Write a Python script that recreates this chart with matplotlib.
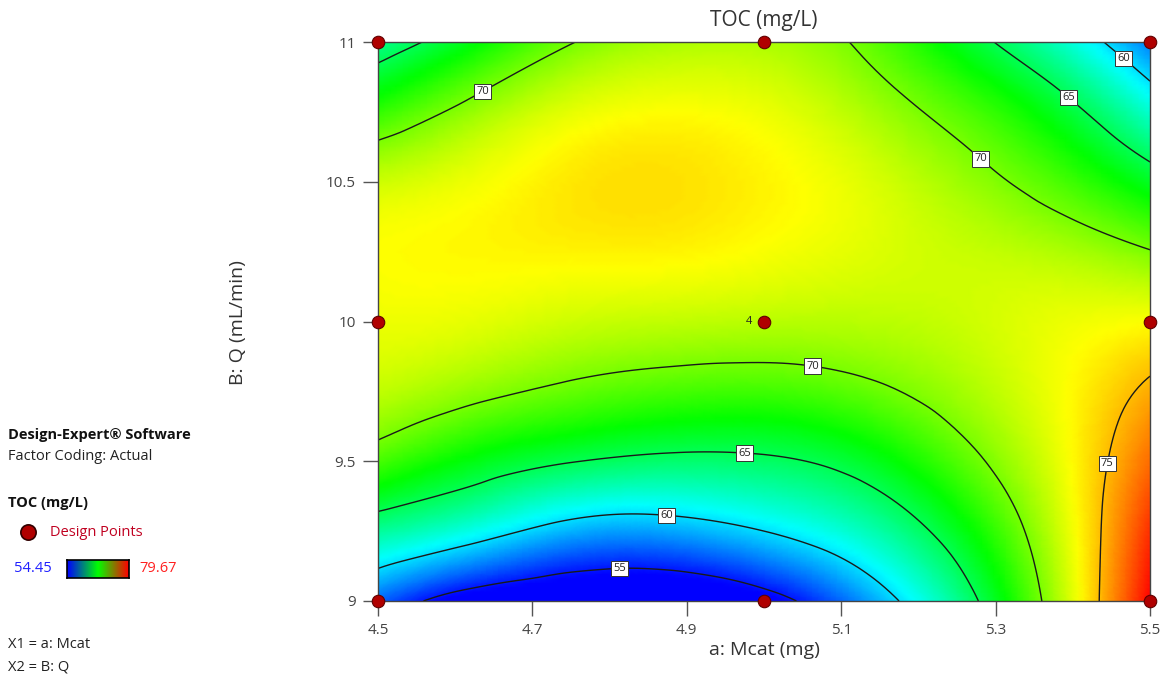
import numpy as np
import matplotlib
matplotlib.use("Agg")
import matplotlib.pyplot as plt
import matplotlib.tri as mtri
from matplotlib.colors import LinearSegmentedColormap, Normalize

plt.rcParams['font.family'] = ['Open Sans', 'DejaVu Sans']

# factor grid (a: Mcat, B: Q) and TOC values
mcat = [4.5, 4.625, 4.75, 4.875, 5.0, 5.125, 5.25, 5.375, 5.5]
flow = [9.0, 9.25, 9.5, 9.75, 10.0, 10.25, 10.5, 10.75, 11.0]
toc = [
    [57.0, 53.3, 52.3, 52.0, 53.8, 58.0, 63.5, 71.0, 79.6],   # Q = 9
    [63.3, 61.2, 58.9, 58.6, 60.0, 62.3, 66.3, 71.8, 78.5],   # 9.25
    [68.8, 66.6, 65.1, 64.4, 64.6, 66.0, 69.0, 72.6, 77.0],   # 9.5
    [71.8, 70.6, 69.5, 68.8, 68.6, 69.4, 71.0, 73.0, 75.4],   # 9.75
    [72.9, 72.7, 72.1, 71.8, 71.6, 71.6, 72.0, 72.8, 73.3],   # 10
    [73.3, 73.5, 73.6, 73.6, 73.2, 72.6, 72.0, 71.4, 70.1],   # 10.25
    [72.1, 73.0, 73.9, 74.1, 73.6, 72.6, 71.0, 69.0, 66.2],   # 10.5
    [68.2, 70.8, 72.7, 73.3, 72.9, 71.4, 69.2, 66.3, 61.9],   # 10.75
    [63.6, 66.8, 69.9, 71.2, 71.3, 69.7, 66.4, 62.5, 57.5],   # 11
]
levels = [55, 60, 65, 70, 75]
toc_min, toc_max = 54.45, 79.67

# design points (center point replicated 4 times)
pts_x = [4.5, 5.0, 5.5, 4.5, 5.0, 5.5, 4.5, 5.0, 5.5]
pts_y = [9, 9, 9, 10, 10, 10, 11, 11, 11]

xticks = [4.5, 4.7, 4.9, 5.1, 5.3, 5.5]
yticks = [9, 9.5, 10, 10.5, 11]

fig = plt.figure(figsize=(11.69, 6.90), dpi=100)
ax = fig.add_axes([0.3234, 0.1290, 0.6604, 0.8101])

X, Y = np.meshgrid(mcat, flow)
Z = np.array(toc)
tri = mtri.Triangulation(X.ravel(), Y.ravel())
interp = mtri.CubicTriInterpolator(tri, Z.ravel(), kind='min_E')
refiner = mtri.UniformTriRefiner(tri)
tri_f, z_f = refiner.refine_field(Z.ravel(), triinterpolator=interp, subdiv=4)

de_cmap = LinearSegmentedColormap.from_list(
    'de', ['#0000ff', '#00ffff', '#00ff00', '#ffff00', '#ff0000'])
norm = Normalize(toc_min, toc_max, clip=True)
ax.tripcolor(tri_f, np.clip(z_f, toc_min, toc_max), cmap=de_cmap, norm=norm,
             shading='gouraud')
cs = ax.tricontour(tri_f, z_f, levels=levels, colors='#1a1a1a', linewidths=1.0)

label_pos = [(4.63, 10.85), (5.286, 10.60), (5.394, 10.80), (5.468, 10.95),
             (5.063, 9.84), (4.975, 9.53), (4.874, 9.32), (4.813, 9.12),
             (5.427, 9.50)]
labs = ax.clabel(cs, fmt='%d', fontsize=8, inline=False, manual=label_pos,
                 colors='#222222')
for t in labs:
    t.set_rotation(0)
    t.set_bbox(dict(facecolor='white', edgecolor='#333333', linewidth=0.7,
                    boxstyle='square,pad=0.2'))
    t.set_zorder(5)

ax.plot(pts_x, pts_y, 'o', ms=9, mfc='#b00000', mec='#600000', mew=0.8,
        clip_on=False, zorder=6)
ax.text(4.985, 10.0, '4', fontsize=8, ha='right', va='center',
        color='#222222', zorder=6)

ax.set_xlim(4.5, 5.5)
ax.set_ylim(9, 11)
ax.set_xticks(xticks)
ax.set_xticklabels(['4.5', '4.7', '4.9', '5.1', '5.3', '5.5'])
ax.set_yticks(yticks)
ax.set_yticklabels(['9', '9.5', '10', '10.5', '11'])
ax.tick_params(direction='out', length=11, width=1, colors='#555555',
               labelcolor='#444444', labelsize=11, pad=5)
for s in ax.spines.values():
    s.set_color('#444444')
    s.set_linewidth(1)

fig.text(0.6535, 0.971, 'TOC (mg/L)', fontsize=15, ha='center', va='center',
         color='#333333')
fig.text(0.6535, 0.058, 'a: Mcat (mg)', fontsize=14, ha='center', va='center',
         color='#333333')
fig.text(0.2036, 0.533, 'B: Q (mL/min)', fontsize=14, ha='center', va='center',
         rotation=90, color='#333333')

# left side legend block
fig.text(0.007, 1 - 435 / 690, 'Design-Expert® Software', fontsize=10.5,
         fontweight='bold', va='center', color='#111111')
fig.text(0.007, 1 - 457 / 690, 'Factor Coding: Actual', fontsize=10.5,
         va='center', color='#222222')
fig.text(0.007, 1 - 503 / 690, 'TOC (mg/L)', fontsize=10.5, fontweight='bold',
         va='center', color='#111111')
fig.lines.append(plt.Line2D([28 / 1169], [1 - 532 / 690], marker='o', ms=11,
                            mfc='#b00000', mec='#300000', mew=1.2,
                            transform=fig.transFigure))
fig.text(50 / 1169, 1 - 532 / 690, 'Design Points', fontsize=10.5,
         va='center', color='#c00020')
fig.text(14 / 1169, 1 - 569 / 690, f'{toc_min:.2f}', fontsize=10.5,
         va='center', color='#2020ff')
fig.text(139 / 1169, 1 - 569 / 690, f'{toc_max:.2f}', fontsize=10.5,
         va='center', color='#ff2020')
cax = fig.add_axes([67 / 1169, 1 - 578 / 690, 62 / 1169, 18 / 690])
legend_cmap = LinearSegmentedColormap.from_list('leg', ['#0000ff', '#00ff00', '#ff0000'])
cax.imshow(np.linspace(0, 1, 100)[None, :], aspect='auto', cmap=legend_cmap)
cax.set_xticks([])
cax.set_yticks([])
for s in cax.spines.values():
    s.set_linewidth(1.2)
fig.text(0.007, 1 - 645 / 690, 'X1 = a: Mcat', fontsize=10.5, va='center',
         color='#222222')
fig.text(0.007, 1 - 667 / 690, 'X2 = B: Q', fontsize=10.5, va='center',
         color='#222222')

fig.savefig('out.png', dpi=100)
